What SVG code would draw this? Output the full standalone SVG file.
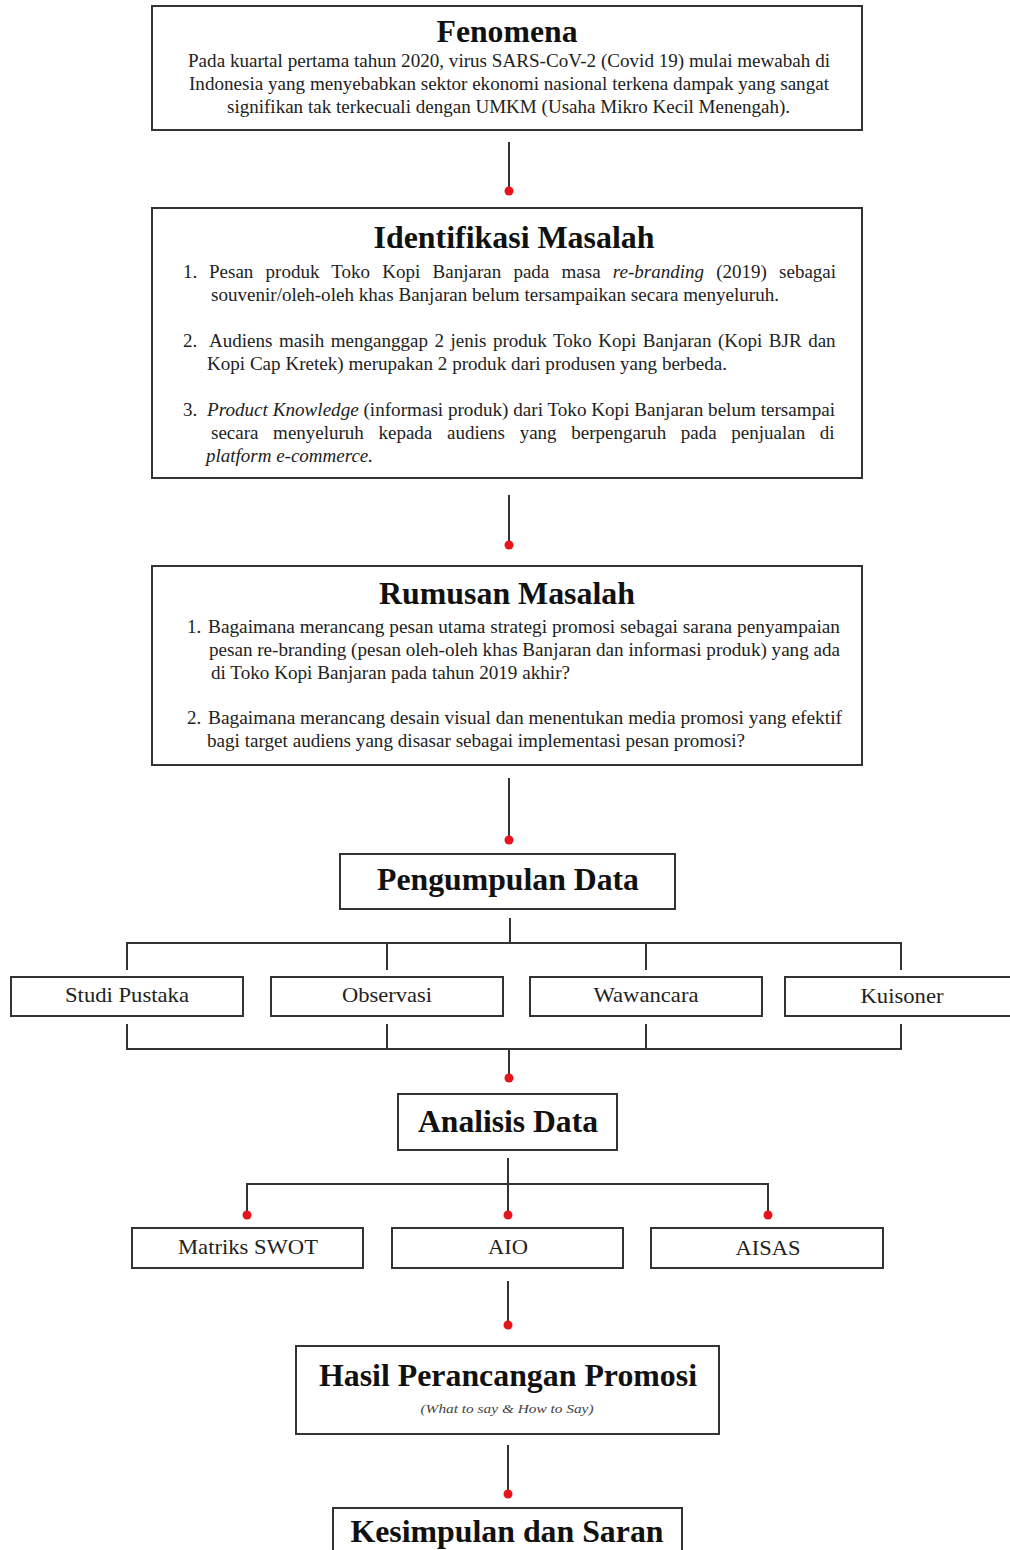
<svg xmlns="http://www.w3.org/2000/svg" width="1010" height="1550" viewBox="0 0 1010 1550">
<style>
.box{fill:#fff;stroke:#333;stroke-width:2}
.title{font-family:"Liberation Serif","Times New Roman",serif;font-weight:bold;font-size:32px;fill:#111;text-anchor:middle}
.body{font-family:"Liberation Serif","Times New Roman",serif;font-size:19px;fill:#222}
.lbl{font-family:"Liberation Serif","Times New Roman",serif;font-size:22px;fill:#222;text-anchor:middle}
.sub{font-family:"Liberation Serif","Times New Roman",serif;font-size:13px;font-style:italic;fill:#444;text-anchor:middle}
.it{font-style:italic}
.ln{fill:none;stroke:#333;stroke-width:2}
.dot{fill:#e8141c}
</style>
<rect width="1010" height="1550" fill="#fff"/>
<g id="connectors">
<line class="ln" x1="509" y1="142" x2="509" y2="190"/><circle class="dot" cx="509" cy="191" r="4.5"/>
<line class="ln" x1="509" y1="495" x2="509" y2="544"/><circle class="dot" cx="509" cy="545" r="4.5"/>
<line class="ln" x1="509" y1="778" x2="509" y2="839"/><circle class="dot" cx="509" cy="840" r="4.5"/>
<path class="ln" d="M510 918V943M127 970V943H901V970M387 943V970M646 943V970"/>
<path class="ln" d="M127 1024V1049H901V1024M387 1024V1049M646 1024V1049M509 1049V1077"/><circle class="dot" cx="509" cy="1078" r="4.5"/>
<path class="ln" d="M508 1158V1214M247 1214V1184H768V1214"/>
<circle class="dot" cx="247" cy="1215" r="4.5"/><circle class="dot" cx="508" cy="1215" r="4.5"/><circle class="dot" cx="768" cy="1215" r="4.5"/>
<line class="ln" x1="508" y1="1281" x2="508" y2="1324"/><circle class="dot" cx="508" cy="1325" r="4.5"/>
<line class="ln" x1="508" y1="1445" x2="508" y2="1493"/><circle class="dot" cx="508" cy="1494" r="4.5"/>
</g>
<g id="fenomena">
<rect class="box" x="152" y="6" width="710" height="124"/>
<text class="title" x="507" y="42" textLength="141" lengthAdjust="spacingAndGlyphs">Fenomena</text>
<text class="body" x="188" y="67" textLength="642" lengthAdjust="spacingAndGlyphs">Pada kuartal pertama tahun 2020, virus SARS-CoV-2 (Covid 19) mulai mewabah di</text>
<text class="body" x="189" y="90" textLength="640" lengthAdjust="spacingAndGlyphs">Indonesia yang menyebabkan sektor ekonomi nasional terkena dampak yang sangat</text>
<text class="body" x="227" y="113" textLength="563" lengthAdjust="spacingAndGlyphs">signifikan tak terkecuali dengan UMKM (Usaha Mikro Kecil Menengah).</text>
</g>
<g id="identifikasi">
<rect class="box" x="152" y="208" width="710" height="270"/>
<text class="title" x="514" y="248" textLength="281" lengthAdjust="spacingAndGlyphs">Identifikasi Masalah</text>
<text class="body" x="183" y="278">1.</text>
<text class="body" x="209" y="278" word-spacing="7.5">Pesan produk Toko Kopi Banjaran pada masa <tspan class="it">re-branding</tspan> (2019) sebagai</text>
<text class="body" x="211" y="301" textLength="568" lengthAdjust="spacingAndGlyphs">souvenir/oleh-oleh khas Banjaran belum tersampaikan secara menyeluruh.</text>
<text class="body" x="183" y="347">2.</text>
<text class="body" x="209" y="347" word-spacing="1.8">Audiens masih menganggap 2 jenis produk Toko Kopi Banjaran (Kopi BJR dan</text>
<text class="body" x="207" y="370" textLength="520" lengthAdjust="spacingAndGlyphs">Kopi Cap Kretek) merupakan 2 produk dari produsen yang berbeda.</text>
<text class="body" x="183" y="416">3.</text>
<text class="body" x="207" y="416" textLength="628" lengthAdjust="spacingAndGlyphs"><tspan class="it">Product Knowledge</tspan> (informasi produk) dari Toko Kopi Banjaran belum tersampai</text>
<text class="body" x="211" y="439" word-spacing="9.9">secara menyeluruh kepada audiens yang berpengaruh pada penjualan di</text>
<text class="body it" x="206" y="462" textLength="167" lengthAdjust="spacingAndGlyphs">platform e-commerce.</text>
</g>
<g id="rumusan">
<rect class="box" x="152" y="566" width="710" height="199"/>
<text class="title" x="507" y="604" textLength="256" lengthAdjust="spacingAndGlyphs">Rumusan Masalah</text>
<text class="body" x="187" y="633">1.</text>
<text class="body" x="208" y="633" textLength="632" lengthAdjust="spacingAndGlyphs">Bagaimana merancang pesan utama strategi promosi sebagai sarana penyampaian</text>
<text class="body" x="209" y="656" textLength="631" lengthAdjust="spacingAndGlyphs">pesan re-branding (pesan oleh-oleh khas Banjaran dan informasi produk)  yang ada</text>
<text class="body" x="211" y="679" textLength="359" lengthAdjust="spacingAndGlyphs">di Toko Kopi Banjaran pada tahun 2019 akhir?</text>
<text class="body" x="187" y="724">2.</text>
<text class="body" x="208" y="724" textLength="634" lengthAdjust="spacingAndGlyphs">Bagaimana merancang desain visual dan menentukan media promosi yang efektif</text>
<text class="body" x="207" y="747" textLength="538" lengthAdjust="spacingAndGlyphs">bagi target audiens yang disasar sebagai implementasi pesan promosi?</text>
</g>
<g id="pengumpulan">
<rect class="box" x="340" y="854" width="335" height="55"/>
<text class="title" x="508" y="890" textLength="262" lengthAdjust="spacingAndGlyphs">Pengumpulan Data</text>
</g>
<g id="studi"><rect class="box" x="11" y="977" width="232" height="39"/><text class="lbl" x="127" y="1002" textLength="124" lengthAdjust="spacingAndGlyphs">Studi Pustaka</text></g>
<g id="observasi"><rect class="box" x="271" y="977" width="232" height="39"/><text class="lbl" x="387" y="1002" textLength="90" lengthAdjust="spacingAndGlyphs">Observasi</text></g>
<g id="wawancara"><rect class="box" x="530" y="977" width="232" height="39"/><text class="lbl" x="646" y="1002" textLength="105" lengthAdjust="spacingAndGlyphs">Wawancara</text></g>
<g id="kuisoner"><rect class="box" x="785" y="977" width="240" height="39"/><text class="lbl" x="902" y="1003" textLength="83" lengthAdjust="spacingAndGlyphs">Kuisoner</text></g>
<g id="analisis">
<rect class="box" x="398" y="1094" width="219" height="56"/>
<text class="title" x="508" y="1132" textLength="180" lengthAdjust="spacingAndGlyphs">Analisis Data</text>
</g>
<g id="swot"><rect class="box" x="132" y="1228" width="231" height="40"/><text class="lbl" x="248" y="1254" textLength="140" lengthAdjust="spacingAndGlyphs">Matriks SWOT</text></g>
<g id="aio"><rect class="box" x="392" y="1228" width="231" height="40"/><text class="lbl" x="508" y="1254" textLength="40" lengthAdjust="spacingAndGlyphs">AIO</text></g>
<g id="aisas"><rect class="box" x="651" y="1228" width="232" height="40"/><text class="lbl" x="768" y="1255" textLength="65" lengthAdjust="spacingAndGlyphs">AISAS</text></g>
<g id="hasil">
<rect class="box" x="296" y="1346" width="423" height="88"/>
<text class="title" x="508" y="1386" textLength="378" lengthAdjust="spacingAndGlyphs">Hasil Perancangan Promosi</text>
<text class="sub" x="507" y="1413" textLength="173" lengthAdjust="spacingAndGlyphs">(What to say &amp; How to Say)</text>
</g>
<g id="kesimpulan">
<rect class="box" x="333" y="1508" width="349" height="60"/>
<text class="title" x="507" y="1542" textLength="313" lengthAdjust="spacingAndGlyphs">Kesimpulan dan Saran</text>
</g>
</svg>
